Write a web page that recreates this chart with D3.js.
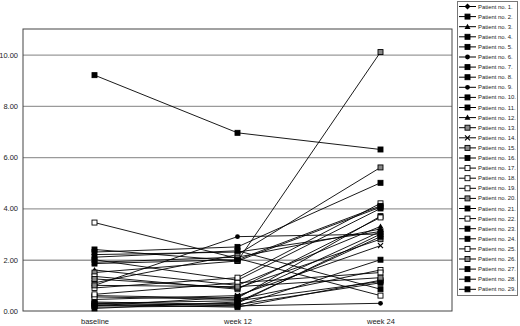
<!DOCTYPE html>
<html>
<head>
<meta charset="utf-8">
<script src="https://cdn.jsdelivr.net/npm/d3@7"></script>
<style>
  body { margin: 0; background: #fff; }
  svg text { font-family: "Liberation Sans Narrow", "Liberation Sans", Arial, sans-serif; fill: #222; }
</style>
</head>
<body>
<svg id="chart" width="520" height="326"></svg>
<script>
// Time points
const timepoints = ["baseline", "week 12", "week 24"];
const patients = d3.range(1, 30).map(i => `Patient no. ${i}.`);
// Values per patient
const baseline = [2.2, 0.3, 1.9, 0.2, 2.4, 0.15, 0.6, 2.3, 1.0, 0.35, 2.0, 1.6, 1.5, 0.45, 1.1,
  9.2, 3.45, 1.35, 0.9, 1.25, 0.25, 0.55, 2.1, 0.1, 0.65, 1.0, 0.2, 1.85, 0.3];
const week12 = [2.3, 0.4, 2.1, 0.3, 1.95, 0.2, 0.5, 2.5, 2.9, 0.25, 1.2, 1.0, 1.95, 0.6, 2.2,
  6.95, 2.05, 0.85, 1.3, 0.9, 0.15, 0.45, 2.35, 0.35, 1.1, 0.95, 0.55, 2.0, 0.2];
const week24 = [3.1, 1.15, 3.2, 3.0, 4.05, 0.3, 3.7, 5.0, 3.0, 1.1, 4.0, 3.3, 10.1, 2.55, 5.6,
  6.3, 0.6, 3.65, 4.2, 2.8, 1.2, 1.6, 0.85, 2.9, 1.5, 1.3, 3.1, 4.1, 2.0];
// Marker style per patient
const markers = ["diamond", "square", "triangle", "square", "square", "circle", "square", "square", "circle", "square",
  "square", "triangle", "gray", "cross", "gray", "square", "open", "open", "open", "gray",
  "square", "open", "square", "square", "open", "gray", "square", "square", "square"];
const yTicks = [0, 2, 4, 6, 8, 10];

const svg = d3.select("#chart");
const plot = { left: 23, right: 452, top: 29, bottom: 311 };

const x = d3.scalePoint().domain(timepoints).range([plot.left, plot.right]).padding(0.5);
const y = d3.scaleLinear().domain([0, 11]).range([plot.bottom, plot.top]);

// gridlines
svg.append("g")
  .attr("transform", `translate(${plot.left},0)`)
  .call(d3.axisLeft(y).tickValues(yTicks.filter(d => d > 0)).tickSize(-(plot.right - plot.left)).tickFormat(""))
  .call(g => g.select(".domain").remove())
  .selectAll("line").attr("stroke", "#9a9a9a").attr("stroke-width", 1.3);

// frame
svg.append("rect")
  .attr("x", plot.left).attr("y", plot.top)
  .attr("width", plot.right - plot.left).attr("height", plot.bottom - plot.top)
  .attr("fill", "none").attr("stroke", "#444").attr("stroke-width", 1);

// y labels
svg.append("g")
  .attr("transform", `translate(${plot.left},0)`)
  .call(d3.axisLeft(y).tickValues(yTicks).tickSize(0).tickPadding(5).tickFormat(d3.format(".2f")))
  .call(g => g.select(".domain").remove())
  .selectAll("text").style("font-size", "7.5px");

// x labels
svg.append("g")
  .attr("transform", `translate(0,${plot.bottom})`)
  .call(d3.axisBottom(x).tickSize(0).tickPadding(8))
  .call(g => g.select(".domain").remove())
  .selectAll("text").style("font-size", "7.5px");

function drawMarker(g, type, cx, cy) {
  const s = 2.5;
  if (type === "circle") {
    g.append("circle").attr("cx", cx).attr("cy", cy).attr("r", 2.4).attr("fill", "#000");
  } else if (type === "diamond") {
    g.append("path").attr("d", `M${cx},${cy - 3}L${cx + 3},${cy}L${cx},${cy + 3}L${cx - 3},${cy}Z`).attr("fill", "#000");
  } else if (type === "triangle") {
    g.append("path").attr("d", `M${cx},${cy - 3}L${cx + 3},${cy + 2.2}L${cx - 3},${cy + 2.2}Z`).attr("fill", "#000");
  } else if (type === "cross") {
    g.append("path").attr("d", `M${cx - s},${cy - s}L${cx + s},${cy + s}M${cx + s},${cy - s}L${cx - s},${cy + s}`)
      .attr("stroke", "#000").attr("stroke-width", 1.2);
  } else {
    const fill = type === "open" ? "#fff" : type === "gray" ? "#888" : "#000";
    g.append("rect").attr("x", cx - s).attr("y", cy - s).attr("width", 2 * s).attr("height", 2 * s)
      .attr("fill", fill).attr("stroke", "#000").attr("stroke-width", 0.9);
  }
}

const series = patients.map((p, i) => ({
  name: p, marker: markers[i],
  values: [baseline[i], week12[i], week24[i]].map((v, j) => ({ t: timepoints[j], v }))
}));

const line = d3.line().x(d => x(d.t)).y(d => y(d.v));

const lines = svg.append("g");
series.forEach(s => {
  lines.append("path").attr("d", line(s.values)).attr("fill", "none").attr("stroke", "#000").attr("stroke-width", 0.9);
});
const marks = svg.append("g");
series.forEach(s => {
  s.values.forEach(d => drawMarker(marks, s.marker, x(d.t), y(d.v)));
});

// legend
const legend = svg.append("g");
legend.append("rect").attr("x", 457.5).attr("y", 1.5).attr("width", 60).attr("height", 294)
  .attr("fill", "#fff").attr("stroke", "#777").attr("stroke-width", 1);
series.forEach((s, i) => {
  const ly = 6.5 + i * 10.1;
  legend.append("line").attr("x1", 459).attr("x2", 476).attr("y1", ly).attr("y2", ly)
    .attr("stroke", "#000").attr("stroke-width", 1);
  drawMarker(legend, s.marker, 467.5, ly);
  legend.append("text").attr("x", 478).attr("y", ly).attr("dy", "0.35em")
    .style("font-size", "5.9px").text(s.name);
});
</script>
</body>
</html>
